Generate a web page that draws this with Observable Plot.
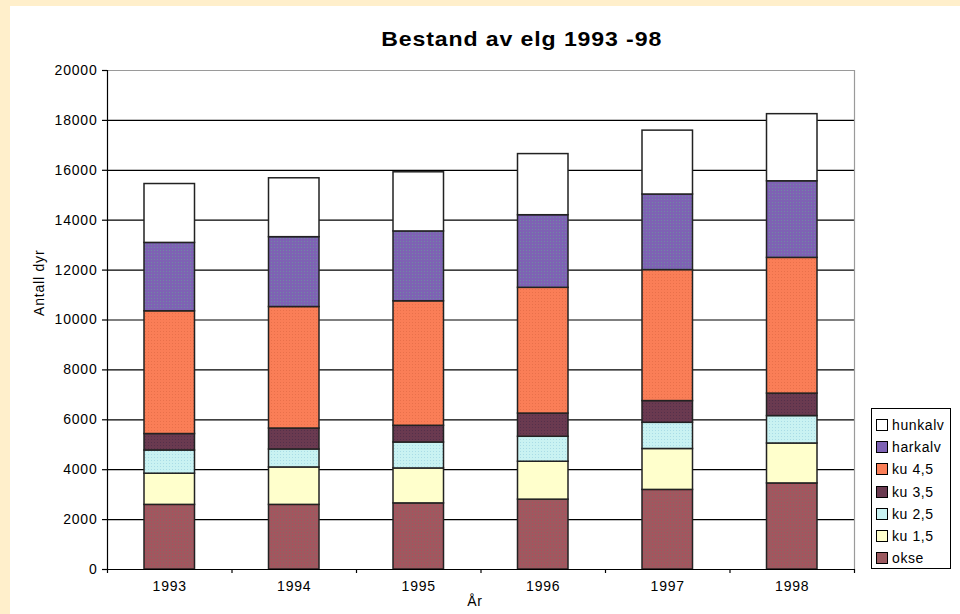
<!DOCTYPE html>
<html>
<head>
<meta charset="utf-8">
<script src="https://cdn.jsdelivr.net/npm/d3@7"></script>
<script src="https://cdn.jsdelivr.net/npm/@observablehq/plot@0.6"></script>
<style>
  html, body { margin: 0; padding: 0; background: #FFEFCB; }
  #wrap { position: relative; width: 960px; height: 614px; overflow: hidden; font-family: "Liberation Sans", Arial, sans-serif; }
  #panel { position: absolute; left: 10px; top: 6px; right: 0; bottom: 0; background: #fff; }
  #chart { position: absolute; left: 0; top: 0; }
  #chart text { letter-spacing: 0.8px; }
  #title { position: absolute; left: 0; width: 1043px; top: 27px; text-align: center; }
  #title span { display: inline-block; font-weight: bold; font-size: 21px; color: #000; letter-spacing: 0.8px; transform: scaleX(1.1); transform-origin: center; }
  #legend { position: absolute; left: 871px; top: 408px; width: 80px; height: 161px; border: 1px solid #000; background: #fff; box-sizing: border-box; padding-top: 5px; }
  .item { height: 22.2px; display: flex; align-items: center; font-size: 14px; color: #000; letter-spacing: 0.6px; }
  .sw { width: 10px; height: 10px; border: 1px solid #000; margin-left: 4px; margin-right: 4px; flex: none; }
</style>
</head>
<body>
<svg width="0" height="0" style="position:absolute">
  <defs id="defs"></defs>
</svg>
<div id="wrap">
  <div id="panel"></div>
  <div id="chart"></div>
  <div id="title"><span>Bestand av elg 1993 -98</span></div>
  <div id="legend"></div>
</div>
<script>
// Elk population by age/sex group, 1993–1998
const years = [1993, 1994, 1995, 1996, 1997, 1998];
const series = ["okse", "ku 1,5", "ku 2,5", "ku 3,5", "ku 4,5", "harkalv", "hunkalv"];
const okse    = [2590, 2590, 2650, 2800, 3190, 3450];
const ku15    = [1250, 1500, 1400, 1520, 1640, 1600];
const ku25    = [930, 720, 1040, 1000, 1050, 1100];
const ku35    = [660, 840, 670, 930, 870, 900];
const ku45    = [4920, 4870, 4990, 5040, 5250, 5440];
const harkalv = [2740, 2800, 2800, 2910, 3030, 3070];
const hunkalv = [2360, 2360, 2370, 2450, 2560, 2690];
const yTicks = [0, 2000, 4000, 6000, 8000, 10000, 12000, 14000, 16000, 18000, 20000];
// base fill and dot colour of each series' texture
const colors = ["#9C5A60", "#FFFFCC", "#C9F2F2", "#6A3A50", "#FA7E57", "#7E62B4", "#FFFFFF"];
const dots   = ["#B8485A", null, "#A9DCE6", "#54304A", "#E8704A", "#6E8AA0", null];

// dotted textures
const defs = d3.select("#defs");
const fills = series.map((s, i) => {
  if (!dots[i]) return colors[i];
  const id = "tex" + i;
  const p = defs.append("pattern").attr("id", id).attr("patternUnits", "userSpaceOnUse")
    .attr("width", 3).attr("height", 3);
  p.append("rect").attr("width", 3).attr("height", 3).attr("fill", colors[i]);
  p.append("rect").attr("x", 1).attr("y", 1).attr("width", 1).attr("height", 1).attr("fill", dots[i]);
  return `url(#${id})`;
});

const values = [okse, ku15, ku25, ku35, ku45, harkalv, hunkalv];
const rows = [];
series.forEach((s, i) => years.forEach((yr, j) => rows.push({year: yr, series: s, value: values[i][j]})));

const x0 = years[0] - 0.5, x1 = years[years.length - 1] + 0.5;
const bounds = d3.range(x0, x1 + 0.01, 1);

const chart = Plot.plot({
  width: 960,
  height: 614,
  marginLeft: 107,
  marginRight: 106,
  marginTop: 70,
  marginBottom: 45,
  style: {background: "transparent", fontFamily: "'Liberation Sans', Arial, sans-serif", fontSize: "14px", color: "#000"},
  x: {domain: [x0, x1], axis: null},
  y: {domain: [0, 20000], axis: null},
  color: {domain: series, range: fills},
  marks: [
    Plot.ruleY(yTicks.slice(1, -1), {stroke: "#000", strokeWidth: 1.2}),
    Plot.ruleY([20000], {stroke: "#9a9a9a", strokeWidth: 1.2}),
    Plot.ruleX([x1], {stroke: "#9a9a9a", strokeWidth: 1.2}),
    Plot.rectY(rows, Plot.stackY({
      x: "year",
      x1: d => d.year - 0.5,
      x2: d => d.year + 0.5,
      y: "value",
      fill: "series",
      insetLeft: 37,
      insetRight: 37,
      stroke: "#222",
      strokeWidth: 1.5
    })),
    Plot.axisY({ticks: yTicks, tickSize: 5, tickPadding: 5, tickFormat: d => String(d), label: null, stroke: "#000", strokeWidth: 1.2}),
    Plot.axisX({ticks: bounds, tickSize: 4, tickFormat: () => "", label: null, stroke: "#000", strokeWidth: 1.2}),
    Plot.axisX({ticks: years, tickSize: 0, tickPadding: 12, tickFormat: d => String(d), label: null}),
    Plot.ruleX([x0], {stroke: "#000", strokeWidth: 1.2}),
    Plot.ruleY([0], {stroke: "#000", strokeWidth: 1.2}),
    Plot.text(["Antall dyr"], {frameAnchor: "left", dx: -68, dy: -4, rotate: -90, fontSize: 14}),
    Plot.text(["År"], {frameAnchor: "bottom", dx: -6, dy: 36, fontSize: 14})
  ]
});
document.getElementById("chart").appendChild(chart);

// Legend, top of the stack first
const legend = document.getElementById("legend");
series.slice().reverse().forEach(s => {
  const item = document.createElement("div");
  item.className = "item";
  const sw = document.createElement("span");
  sw.className = "sw";
  sw.style.background = colors[series.indexOf(s)];
  const label = document.createElement("span");
  label.textContent = s;
  item.appendChild(sw);
  item.appendChild(label);
  legend.appendChild(item);
});
</script>
</body>
</html>
